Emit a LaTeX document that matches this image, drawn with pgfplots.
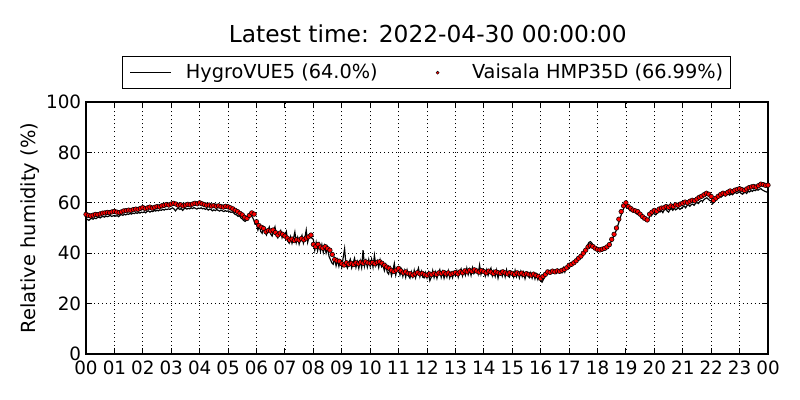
\documentclass[border=0pt]{standalone}
\usepackage{fontspec}
\setmainfont{DejaVu Sans}
\usepackage{pgfplots}
\pgfplotsset{compat=1.18}
\begin{document}
\begin{tikzpicture}
\path[use as bounding box] (0,0) rectangle (576bp,288bp);
\node[anchor=base, font=\fontsize{16.8bp}{20bp}\selectfont] at (308bp,257.4bp) {Latest time: 2022-04-30 00:00:00};
\begin{axis}[
 at={(61.92bp,33.12bp)}, anchor=south west,
 scale only axis, width=491.04bp, height=181.44bp,
 xmin=0, xmax=1440, ymin=0, ymax=100,
 xtick={0,60,...,1440},
 xticklabels={00,01,02,03,04,05,06,07,08,09,10,11,12,13,14,15,16,17,18,19,20,21,22,23,00},
 ytick={0,20,...,100},
 tick align=inside, major tick length=4bp,
 axis line style={line width=1bp},
 every tick/.style={black, line width=0.7bp},
 grid=major, major grid style={black, line width=0.5bp, dash pattern=on 0.7bp off 2.2bp},
 tick label style={font=\fontsize{13.2bp}{15bp}\selectfont},
 /pgf/number format/assume math mode=true,
 xticklabel style={anchor=base, yshift=-15.1bp},
 ylabel={Relative humidity (\%)},
 ylabel style={at={(axis description cs:-0.0821,0.5)}, anchor=center, font=\fontsize{14bp}{17bp}\selectfont},
 legend style={at={(0.4993,1.1163)}, anchor=center, draw=black, line width=0.8bp, legend columns=2,
   font=\fontsize{13.9bp}{16bp}\selectfont, inner xsep=5bp, inner ysep=5.5bp, nodes={inner sep=0pt},
   /tikz/every odd column/.style={column sep=10bp}, /tikz/column 2/.style={column sep=28.4bp}},
]
\addplot[black, line width=0.85bp, no marks,
 legend image code/.code={\draw[black, line width=0.8bp] (0bp,0bp) -- (29.5bp,0bp);}]
 table[row sep=\\] {x y\\
0 53.7\\3 53.4\\6 53.0\\9 53.6\\12 53.8\\15 53.5\\18 54.0\\21 53.7\\24 54.1\\27 54.3\\30 54.0\\33 54.4\\36 54.6\\39 54.3\\42 54.8\\45 54.5\\48 54.7\\51 55.0\\54 54.6\\57 54.8\\
60 55.0\\63 54.7\\66 54.9\\69 54.5\\72 55.1\\75 55.3\\78 55.0\\81 55.5\\84 55.2\\87 55.6\\90 55.4\\93 55.8\\96 55.5\\99 55.9\\102 55.7\\105 56.1\\108 55.8\\111 56.2\\114 55.9\\117 56.3\\
120 56.1\\123 56.4\\126 56.0\\129 56.6\\132 56.8\\135 56.3\\138 56.7\\141 56.5\\144 57.0\\147 56.7\\150 57.1\\153 56.8\\156 57.2\\159 57.0\\162 57.4\\165 57.1\\168 57.5\\171 57.3\\174 57.6\\177 57.4\\
180 57.7\\183 58.0\\186 57.5\\189 56.8\\192 57.6\\195 57.8\\198 57.4\\201 57.7\\204 57.0\\207 57.6\\210 57.9\\213 57.5\\216 57.8\\219 57.6\\222 58.0\\225 57.7\\228 58.1\\231 57.8\\234 57.5\\237 57.9\\
240 57.7\\243 58.0\\246 57.6\\249 57.8\\252 57.4\\255 57.7\\258 57.1\\261 57.5\\264 57.3\\267 56.8\\270 57.2\\273 56.9\\276 57.3\\279 57.0\\282 56.7\\285 57.1\\288 56.8\\291 56.5\\294 56.9\\297 56.6\\
300 56.8\\303 56.5\\306 56.2\\309 56.4\\312 55.9\\315 55.4\\318 55.2\\321 54.6\\324 54.9\\327 54.0\\330 53.6\\333 53.0\\336 52.6\\339 53.2\\342 54.0\\345 54.8\\348 55.1\\351 54.4\\354 53.3\\357 51.5\\
360 51.5\\363 49.2\\366 50.8\\369 48.6\\372 47.9\\375 50.2\\378 48.3\\381 47.2\\384 49.1\\387 50.4\\390 47.6\\393 46.8\\396 48.9\\399 50.5\\402 47.2\\405 46.1\\408 47.9\\411 49.0\\414 46.2\\417 47.8\\
420 47.0\\423 48.6\\426 44.8\\429 44.0\\432 46.5\\435 43.9\\438 45.8\\441 48.4\\444 44.2\\447 46.3\\450 43.6\\453 45.7\\456 47.1\\459 44.0\\462 46.0\\465 49.2\\468 44.3\\471 46.5\\474 47.4\\477 45.9\\
480 45.5\\483 41.2\\486 44.3\\489 41.0\\492 43.6\\495 40.8\\498 43.4\\501 40.3\\504 42.9\\507 40.1\\510 42.3\\513 38.8\\516 37.5\\519 36.2\\522 35.6\\525 38.0\\528 35.0\\531 37.3\\534 34.8\\537 36.9\\
540 34.5\\543 38.2\\546 41.8\\549 35.3\\552 34.1\\555 36.3\\558 37.6\\561 34.2\\564 36.1\\567 38.0\\570 34.4\\573 36.6\\576 34.0\\579 37.0\\582 34.3\\585 41.2\\588 34.8\\591 37.1\\594 34.5\\597 37.5\\
600 34.7\\603 37.6\\606 34.5\\609 39.2\\612 35.1\\615 36.9\\618 34.3\\621 37.3\\624 34.6\\627 35.3\\630 33.1\\633 35.4\\636 32.5\\639 31.7\\642 34.2\\645 31.1\\648 33.3\\651 35.9\\654 31.3\\657 33.7\\
660 34.3\\663 31.4\\666 33.5\\669 30.8\\672 33.1\\675 30.5\\678 33.3\\681 31.0\\684 30.1\\687 32.6\\690 30.6\\693 33.2\\696 30.3\\699 32.5\\702 34.1\\705 30.7\\708 32.8\\711 30.5\\714 30.2\\717 32.3\\
720 30.2\\723 32.3\\726 29.1\\729 30.5\\732 33.1\\735 30.3\\738 32.5\\741 30.0\\744 32.2\\747 33.5\\750 30.4\\753 32.6\\756 30.1\\759 32.3\\762 30.5\\765 33.0\\768 30.2\\771 32.2\\774 30.3\\777 32.4\\
780 31.1\\783 33.1\\786 30.5\\789 32.7\\792 33.8\\795 31.0\\798 33.2\\801 31.3\\804 34.1\\807 31.5\\810 33.6\\813 31.2\\816 34.2\\819 31.9\\822 32.8\\825 33.7\\828 31.7\\831 35.3\\834 31.6\\837 33.5\\
840 33.1\\843 30.9\\846 33.4\\849 31.2\\852 33.0\\855 34.1\\858 31.0\\861 32.9\\864 30.8\\867 33.3\\870 30.1\\873 32.6\\876 33.1\\879 30.9\\882 32.8\\885 30.6\\888 33.4\\891 31.1\\894 30.5\\897 32.7\\
900 32.4\\903 30.5\\906 33.2\\909 30.7\\912 32.5\\915 30.2\\918 32.7\\921 30.7\\924 32.4\\927 29.9\\930 32.0\\933 31.1\\936 30.3\\939 32.2\\942 30.1\\945 31.9\\948 29.8\\951 31.6\\954 29.6\\957 31.3\\
960 28.9\\963 28.5\\966 29.7\\969 30.6\\972 32.9\\975 31.9\\978 32.6\\981 32.0\\984 32.9\\987 32.2\\990 33.1\\993 32.1\\996 33.2\\999 32.4\\1002 33.3\\1005 32.3\\1008 34.2\\1011 32.5\\1014 34.6\\1017 33.8\\
1020 34.8\\1023 35.1\\1026 35.3\\1029 35.8\\1032 36.2\\1035 36.6\\1038 37.3\\1041 38.0\\1044 38.6\\1047 39.4\\1050 40.3\\1053 41.0\\1056 42.0\\1059 43.2\\1062 44.3\\1065 44.6\\1068 44.0\\1071 43.1\\1074 42.4\\1077 41.8\\
1080 41.4\\1083 41.2\\1086 41.0\\1089 41.3\\1092 41.5\\1095 41.7\\1098 42.0\\1101 42.6\\1104 43.2\\1107 44.0\\1110 45.2\\1113 46.3\\1116 47.5\\1119 48.8\\1122 50.5\\1125 52.2\\1128 54.0\\1131 55.8\\1134 57.2\\1137 58.5\\
1140 59.2\\1143 58.3\\1146 57.6\\1149 56.8\\1152 57.2\\1155 56.3\\1158 56.8\\1161 55.9\\1164 55.4\\1167 56.2\\1170 54.8\\1173 55.5\\1176 53.6\\1179 54.4\\1182 53.1\\1185 52.8\\1188 53.5\\1191 55.2\\1194 54.8\\1197 55.9\\
1200 55.6\\1203 55.2\\1206 56.0\\1209 56.7\\1212 56.3\\1215 56.9\\1218 56.1\\1221 57.2\\1224 57.5\\1227 56.8\\1230 56.3\\1233 57.3\\1236 57.7\\1239 57.0\\1242 57.9\\1245 57.2\\1248 57.6\\1251 58.0\\1254 57.4\\1257 57.8\\
1260 58.3\\1263 58.7\\1266 58.0\\1269 58.9\\1272 59.2\\1275 58.6\\1278 59.3\\1281 59.5\\1284 59.0\\1287 59.8\\1290 60.1\\1293 59.7\\1296 60.5\\1299 60.9\\1302 60.6\\1305 61.3\\1308 61.7\\1311 62.0\\1314 61.4\\1317 60.9\\
1320 60.8\\1323 59.6\\1326 60.2\\1329 61.0\\1332 61.6\\1335 62.1\\1338 62.5\\1341 62.2\\1344 62.8\\1347 63.1\\1350 62.7\\1353 63.3\\1356 63.5\\1359 63.0\\1362 63.6\\1365 63.2\\1368 63.8\\1371 64.1\\1374 63.7\\1377 64.0\\
1380 64.3\\1383 63.8\\1386 63.4\\1389 63.9\\1392 64.2\\1395 63.7\\1398 64.6\\1401 64.3\\1404 64.9\\1407 64.5\\1410 65.1\\1413 64.8\\1416 65.3\\1419 65.0\\1422 65.4\\1425 65.6\\1428 65.1\\1431 64.8\\1434 64.5\\1437 64.3\\
1440 64.0\\
};
\addlegendentry{HygroVUE5 (64.0\%)}
\addplot[only marks, mark=*, mark size=1.65bp, mark options={fill=red, draw=black, line width=0.4bp},
 legend image code/.code={\path[draw=none, fill=none] (0bp,0bp) -- (29.5bp,0bp); \filldraw[fill=red, draw=black, line width=0.3bp] (14.75bp,0bp) circle (1.1bp);}]
 table[row sep=\\] {x y\\
0 55.4\\5 55.0\\10 54.8\\15 55.1\\20 55.4\\25 55.3\\30 55.6\\35 55.9\\40 56.0\\45 56.2\\50 56.1\\55 56.4\\
60 56.6\\65 56.3\\70 56.1\\75 56.4\\80 56.8\\85 56.9\\90 57.1\\95 57.0\\100 57.3\\105 57.5\\110 57.4\\115 57.8\\
120 58.1\\125 57.7\\130 58.0\\135 58.3\\140 57.9\\145 58.2\\150 58.5\\155 58.4\\160 58.8\\165 59.0\\170 59.3\\175 59.1\\
180 59.5\\185 59.8\\190 59.5\\195 59.0\\200 59.2\\205 58.8\\210 59.1\\215 59.4\\220 59.2\\225 59.5\\230 59.8\\235 59.6\\
240 60.0\\245 59.6\\250 59.3\\255 59.0\\260 59.1\\265 58.7\\270 58.9\\275 58.6\\280 58.8\\285 58.5\\290 58.3\\295 58.6\\
300 58.4\\305 58.0\\310 57.6\\315 57.0\\320 56.5\\325 55.8\\330 55.2\\335 54.2\\340 53.8\\345 55.0\\350 56.0\\355 55.5\\
360 52.5\\365 51.0\\370 50.3\\375 49.8\\380 48.5\\385 49.0\\390 48.8\\395 49.2\\400 48.2\\405 47.2\\410 48.0\\415 47.5\\
420 46.8\\425 46.0\\430 45.2\\435 45.6\\440 45.0\\445 45.4\\450 45.2\\455 45.8\\460 45.3\\465 46.0\\470 46.5\\475 47.2\\
480 43.5\\485 42.6\\490 43.5\\495 42.4\\500 42.0\\505 42.6\\510 41.8\\515 41.2\\520 39.5\\525 37.5\\530 37.0\\535 36.8\\
540 35.8\\545 35.3\\550 36.2\\555 35.6\\560 36.0\\565 35.5\\570 36.2\\575 35.8\\580 36.4\\585 36.0\\590 36.6\\595 36.2\\
600 36.0\\605 36.3\\610 35.8\\615 36.4\\620 36.6\\625 36.0\\630 35.2\\635 34.5\\640 34.0\\645 33.2\\650 32.7\\655 33.3\\
660 34.0\\665 33.0\\670 32.2\\675 32.6\\680 32.0\\685 31.8\\690 31.3\\695 31.8\\700 32.3\\705 31.8\\710 32.0\\715 31.5\\
720 31.2\\725 31.8\\730 31.5\\735 32.0\\740 31.6\\745 32.2\\750 31.9\\755 32.4\\760 31.8\\765 32.2\\770 31.6\\775 32.0\\
780 32.3\\785 31.8\\790 32.6\\795 32.2\\800 33.0\\805 32.6\\810 33.2\\815 32.8\\820 33.4\\825 32.9\\830 32.5\\835 33.1\\
840 32.7\\845 32.2\\850 32.9\\855 32.5\\860 31.9\\865 32.6\\870 32.3\\875 32.0\\880 32.6\\885 32.2\\890 31.8\\895 32.3\\
900 32.0\\905 31.6\\910 32.2\\915 31.8\\920 32.1\\925 31.5\\930 31.9\\935 31.6\\940 31.3\\945 31.7\\950 31.2\\955 30.8\\
960 30.0\\965 30.8\\970 31.6\\975 32.6\\980 32.4\\985 32.9\\990 32.6\\995 33.0\\1000 32.8\\1005 33.2\\1010 33.6\\1015 34.2\\
1020 35.2\\1025 35.6\\1030 36.2\\1035 37.0\\1040 38.0\\1045 38.8\\1050 40.0\\1055 41.2\\1060 42.5\\1065 43.0\\1070 42.7\\1075 42.0\\
1080 41.5\\1085 41.3\\1090 41.6\\1095 41.9\\1100 42.5\\1105 43.4\\1110 45.5\\1115 47.5\\1120 50.0\\1125 53.5\\1130 56.5\\1135 58.8\\
1140 60.0\\1145 58.5\\1150 57.8\\1155 57.1\\1160 56.8\\1165 56.5\\1170 55.5\\1175 54.5\\1180 53.8\\1185 53.2\\1190 55.5\\1195 56.3\\
1200 57.0\\1205 56.6\\1210 57.5\\1215 57.9\\1220 58.0\\1225 58.5\\1230 58.2\\1235 58.8\\1240 58.5\\1245 59.2\\1250 59.0\\1255 59.5\\
1260 59.8\\1265 60.3\\1270 60.0\\1275 60.6\\1280 61.0\\1285 60.8\\1290 61.5\\1295 62.2\\1300 62.6\\1305 63.2\\1310 63.8\\1315 63.4\\
1320 62.5\\1325 61.0\\1330 61.8\\1335 62.6\\1340 63.3\\1345 63.8\\1350 63.5\\1355 64.2\\1360 64.7\\1365 64.4\\1370 65.0\\1375 65.3\\
1380 65.6\\1385 65.2\\1390 64.9\\1395 65.5\\1400 66.0\\1405 66.3\\1410 66.5\\1415 66.2\\1420 66.8\\1425 67.4\\1430 67.2\\1435 66.9\\
1440 67.0\\
};
\addlegendentry{Vaisala HMP35D (66.99\%)}
\end{axis}
\end{tikzpicture}
\end{document}
